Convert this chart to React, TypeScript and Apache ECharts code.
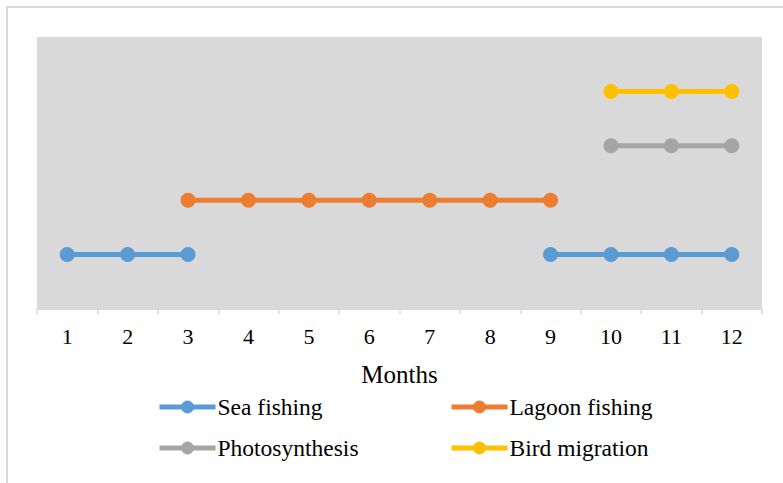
import React, { useEffect, useRef } from "react";
import * as echarts from "echarts";

const months = ["1", "2", "3", "4", "5", "6", "7", "8", "9", "10", "11", "12"];
const seaFishing = [1, 1, 1, null, null, null, null, null, 1, 1, 1, 1];
const lagoonFishing = [null, null, 2, 2, 2, 2, 2, 2, 2, null, null, null];
const photosynthesis = [null, null, null, null, null, null, null, null, null, 3, 3, 3];
const birdMigration = [null, null, null, null, null, null, null, null, null, 4, 4, 4];

const seriesNames = ["Sea fishing", "Lagoon fishing", "Photosynthesis", "Bird migration"];
const seriesColors = ["#5b9bd5", "#ed7d31", "#a5a5a5", "#ffc000"];
const seriesData = [seaFishing, lagoonFishing, photosynthesis, birdMigration];

const FONT = "'Liberation Serif', 'Times New Roman', serif";

export default function App() {
  const ref = useRef<HTMLDivElement>(null);
  useEffect(() => {
    document.body.style.margin = "0";
    const chart = echarts.init(ref.current!, undefined, { renderer: "svg" });
    const legendPos = [
      { left: 157, top: 395 },
      { left: 449, top: 395 },
      { left: 157, top: 436 },
      { left: 449, top: 436 },
    ];
    chart.setOption({
      animation: false,
      backgroundColor: "#ffffff",
      graphic: [
        {
          type: "rect",
          shape: { x: 7, y: 7, width: 800, height: 500 },
          style: { fill: "none", stroke: "#d9d9d9", lineWidth: 2 },
          silent: true,
        },
      ],
      grid: {
        left: 37,
        top: 37,
        right: 21,
        bottom: 174,
        show: true,
        backgroundColor: "#d9d9d9",
        borderWidth: 0,
      },
      legend: seriesNames.map((n, i) => ({
        data: [n],
        left: legendPos[i].left,
        top: legendPos[i].top,
        itemWidth: 56,
        itemHeight: 16,
        itemGap: 0,
        padding: 0,
        selectedMode: false,
        lineStyle: { width: 5 },
        textStyle: { fontFamily: FONT, fontSize: 23.5, color: "#000", padding: [0, 0, 0, -3] },
      })),
      xAxis: {
        type: "category",
        data: months,
        boundaryGap: true,
        name: "Months",
        nameLocation: "middle",
        nameGap: 53,
        nameTextStyle: { fontFamily: FONT, fontSize: 25, color: "#000" },
        axisLine: { show: true, lineStyle: { color: "#d9d9d9", width: 1 } },
        axisTick: { show: true, length: 5, lineStyle: { color: "#d9d9d9", width: 1.5 } },
        axisLabel: { fontFamily: FONT, fontSize: 22, color: "#000", margin: 16 },
      },
      yAxis: {
        type: "value",
        min: 0,
        max: 5,
        show: false,
        splitLine: { show: false },
      },
      series: seriesNames.map((n, i) => ({
        name: n,
        type: "line",
        data: seriesData[i],
        connectNulls: false,
        symbol: "circle",
        symbolSize: 15,
        itemStyle: { color: seriesColors[i] },
        lineStyle: { color: seriesColors[i], width: 5 },
      })),
    });
    return () => chart.dispose();
  }, []);
  return <div ref={ref} style={{ width: 783, height: 483 }} />;
}
